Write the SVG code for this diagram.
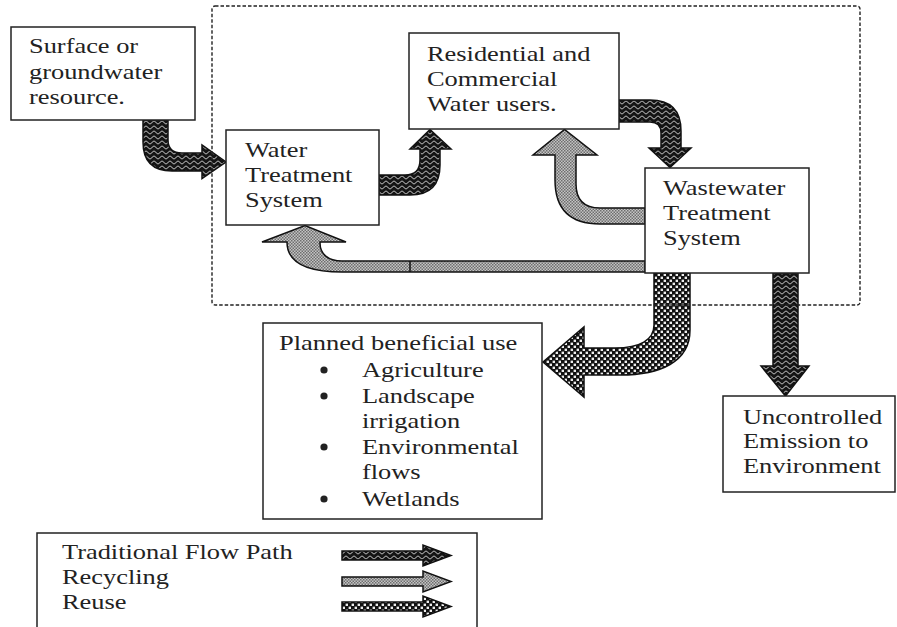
<svg xmlns="http://www.w3.org/2000/svg" width="897" height="627" viewBox="0 0 897 627">
<defs>
<pattern id="wave" patternUnits="userSpaceOnUse" width="8" height="5">
<rect width="8" height="5" fill="#141414"/>
<path d="M0,2.5 C2,0.6 2,0.6 4,2.5 C6,4.4 6,4.4 8,2.5" fill="none" stroke="#e0e0e0" stroke-width="0.9"/>
</pattern>
<pattern id="dots" patternUnits="userSpaceOnUse" width="3" height="3">
<rect width="3" height="3" fill="#c4c4c4"/>
<rect width="1.5" height="1.5" fill="#6e6e6e"/>
<rect x="1.5" y="1.5" width="1.5" height="1.5" fill="#6e6e6e"/>
</pattern>
<pattern id="check" patternUnits="userSpaceOnUse" width="6" height="6">
<rect width="6" height="6" fill="#111"/>
<rect x="0.6" y="0.6" width="2.4" height="2.4" fill="#eee"/>
<rect x="3.6" y="3.6" width="2.4" height="2.4" fill="#eee"/>
</pattern>
</defs>
<style>
.box{fill:#fff;stroke:#222;stroke-width:1.5}
.t{font-family:"Liberation Serif","Times New Roman",serif;font-size:22px;fill:#222}
.trad{fill:url(#wave);stroke:#111;stroke-width:1.5;stroke-linejoin:miter}
.rec{fill:url(#dots);stroke:#111;stroke-width:1.5}
.reu{fill:url(#check);stroke:#111;stroke-width:1.5}
.dash{fill:none;stroke:#222;stroke-width:1.4;stroke-dasharray:3.5 2}
</style>
<rect width="897" height="627" fill="#fff"/>

<g id="connectors">
<path class="trad" d="M143,120 L168,120 L168,140 Q168,153 182,153 L202,153 L202,145 L226,162 L202,178.5 L202,171 L172,171 Q143,171 143,142 Z"/>
<path class="trad" d="M379,175 L405,175 Q420,175 420,160 L420,149 L410,149 L430,129.5 L451,149 L440,149 L440,165 Q440,195 410,195 L379,195 Z"/>
<path class="trad" d="M619,100 L650,100 Q681,100 681,131 L681,148 L691,148 L670,167.5 L649,148 L661,148 L661,133 Q661,122 650,122 L619,122 Z"/>
<path class="rec" d="M645,208 L600,208 Q576,208 576,184 L576,155 L597,155 L564.5,129.5 L533,155 L555,155 L555,180 Q555,224 600,224 L645,224 Z"/>
<path class="rec" d="M645,261 L342,261 C328,261 320,254 320,243 L320,242 L346,242 L305,225.5 L262,242 L287,242 C287,262 305,272 342,272 L645,272 Z"/>
<line x1="410" y1="261" x2="410" y2="272" stroke="#111" stroke-width="1.5"/>
<path class="reu" d="M654,273 L690,273 L690,330 C690,362 660,375 620,375 L584,375 L584,397 L543,362 L584,327 L584,348 L615,348 C640,348 654,340 654,325 Z"/>
<path class="trad" d="M773,273 L798,273 L798,366 L809,366 L785.5,396 L761,366 L773,366 Z"/>
</g>

<rect class="dash" x="212" y="6" width="648" height="299" rx="3"/>

<g id="surface">
<rect class="box" x="11" y="27" width="184" height="93"/>
<g transform="scale(1.2,1)">
<text class="t" x="24.17" y="53">Surface or</text>
<text class="t" x="24.17" y="79">groundwater</text>
<text class="t" x="24.17" y="104">resource.</text>
</g>
</g>

<g id="water">
<rect class="box" x="226" y="130" width="153" height="95"/>
<g transform="scale(1.2,1)">
<text class="t" x="204.17" y="157">Water</text>
<text class="t" x="204.17" y="182">Treatment</text>
<text class="t" x="204.17" y="207">System</text>
</g>
</g>

<g id="residential">
<rect class="box" x="409" y="33" width="210" height="96"/>
<g transform="scale(1.2,1)">
<text class="t" x="355.83" y="61">Residential and</text>
<text class="t" x="355.83" y="86">Commercial</text>
<text class="t" x="355.83" y="111">Water users.</text>
</g>
</g>

<g id="wastewater">
<rect class="box" x="645" y="168" width="164" height="105"/>
<g transform="scale(1.2,1)">
<text class="t" x="552.5" y="195">Wastewater</text>
<text class="t" x="552.5" y="220">Treatment</text>
<text class="t" x="552.5" y="245">System</text>
</g>
</g>

<g id="planned">
<rect class="box" x="263" y="323" width="279" height="196"/>
<circle cx="324" cy="370" r="3.6" fill="#222"/>
<circle cx="324" cy="396" r="3.6" fill="#222"/>
<circle cx="324" cy="447" r="3.6" fill="#222"/>
<circle cx="324" cy="499" r="3.6" fill="#222"/>
<g transform="scale(1.2,1)">
<text class="t" x="232.5" y="350" textLength="198.5" lengthAdjust="spacingAndGlyphs">Planned beneficial use</text>
<text class="t" x="301.67" y="377">Agriculture</text>
<text class="t" x="301.67" y="403">Landscape</text>
<text class="t" x="301.67" y="428">irrigation</text>
<text class="t" x="301.67" y="454">Environmental</text>
<text class="t" x="301.67" y="479">flows</text>
<text class="t" x="301.67" y="506">Wetlands</text>
</g>
</g>

<g id="uncontrolled">
<rect class="box" x="723" y="396" width="172" height="96"/>
<g transform="scale(1.2,1)">
<text class="t" x="619.17" y="424">Uncontrolled</text>
<text class="t" x="619.17" y="448">Emission to</text>
<text class="t" x="619.17" y="473">Environment</text>
</g>
</g>

<g id="legend">
<rect class="box" x="37" y="533" width="440" height="110"/>
<g transform="scale(1.2,1)">
<text class="t" x="51.67" y="559">Traditional Flow Path</text>
<text class="t" x="51.67" y="584">Recycling</text>
<text class="t" x="51.67" y="609">Reuse</text>
</g>
<path class="trad" d="M342,551 L423,551 L423,545 L451,555.5 L423,566 L423,560 L342,560 Z"/>
<path class="rec" d="M342,577 L423,577 L423,571 L451,581.5 L423,592 L423,586 L342,586 Z"/>
<path class="reu" d="M342,602 L423,602 L423,596 L451,606.5 L423,617 L423,611 L342,611 Z"/>
</g>
</svg>
